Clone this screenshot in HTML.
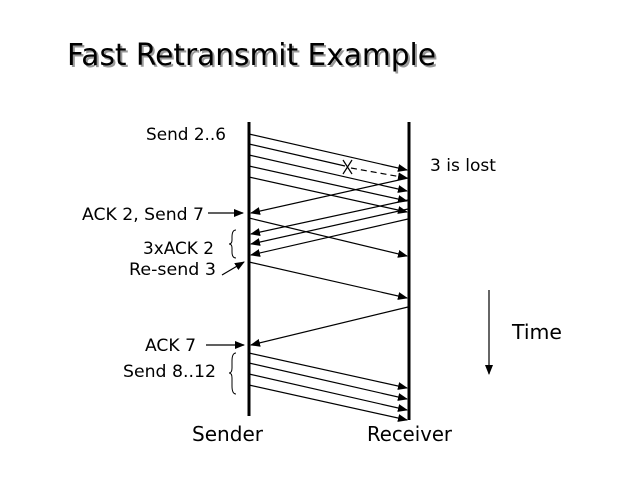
<!DOCTYPE html>
<html><head><style>body{margin:0;background:#fff}svg{display:block}</style></head>
<body>
<svg width="640" height="480" xmlns="http://www.w3.org/2000/svg" font-family="'DejaVu Sans','Liberation Sans',sans-serif">
<defs>
<marker id="a" markerWidth="10" markerHeight="8" refX="9" refY="4" orient="auto" markerUnits="userSpaceOnUse">
<path d="M0,0 L10,4 L0,8 z" fill="#000"/></marker>
</defs>
<text x="69" y="67" font-size="30" fill="#999" textLength="369" lengthAdjust="spacingAndGlyphs">Fast Retransmit Example</text>
<text x="67" y="65" font-size="30" fill="#000" textLength="369" lengthAdjust="spacingAndGlyphs">Fast Retransmit Example</text>
<g stroke="#000" fill="none">
<line x1="249" y1="122" x2="249" y2="416" stroke-width="3"/>
<line x1="409" y1="122" x2="409" y2="420" stroke-width="3"/>
<g stroke-width="1.2" marker-end="url(#a)">
<line x1="249" y1="134" x2="407" y2="170"/>
<line x1="249" y1="155" x2="407" y2="191"/>
<line x1="249" y1="166" x2="407" y2="201"/>
<line x1="249" y1="177" x2="407" y2="212"/>
<line x1="408" y1="178" x2="251" y2="213"/>
<line x1="408" y1="200" x2="251" y2="234"/>
<line x1="408" y1="209" x2="251" y2="244"/>
<line x1="408" y1="219" x2="251" y2="255"/>
<line x1="249" y1="218" x2="407" y2="256"/>
<line x1="249" y1="262" x2="407" y2="298"/>
<line x1="408" y1="307" x2="251" y2="345"/>
<line x1="249" y1="353" x2="407" y2="388"/>
<line x1="249" y1="363" x2="407" y2="399"/>
<line x1="249" y1="374" x2="407" y2="410"/>
<line x1="249" y1="385" x2="407" y2="420"/>
<line x1="208" y1="213" x2="243" y2="213"/>
<line x1="222" y1="275" x2="244" y2="262"/>
<line x1="206" y1="345" x2="244" y2="345"/>
<line x1="489" y1="290" x2="489" y2="374"/>
</g>
<polyline points="249,144 345,166" stroke-width="1.2"/>
<line x1="351" y1="168" x2="407" y2="178" stroke-width="1.2" stroke-dasharray="6,4" marker-end="url(#a)"/>
<path d="M343,160 L352,174 M352,160 L343,174" stroke-width="1.2"/>
<path d="M236,230 Q232,230 232,237 L232,240 Q232,244 229,244 Q232,244 232,248 L232,252 Q232,258 236,258" stroke-width="1"/>
<path d="M236,353 Q232,353 232,361 L232,368 Q232,373 229,373 Q232,373 232,378 L232,386 Q232,394 236,394" stroke-width="1"/>
</g>
<g font-size="17" fill="#000">
<text x="146" y="140" textLength="80" lengthAdjust="spacingAndGlyphs">Send 2..6</text>
<text x="82" y="220" textLength="122" lengthAdjust="spacingAndGlyphs">ACK 2, Send 7</text>
<text x="143" y="254" textLength="71" lengthAdjust="spacingAndGlyphs">3xACK 2</text>
<text x="129" y="275" textLength="87" lengthAdjust="spacingAndGlyphs">Re-send 3</text>
<text x="430" y="171" textLength="66" lengthAdjust="spacingAndGlyphs">3 is lost</text>
<text x="145" y="351" textLength="51" lengthAdjust="spacingAndGlyphs">ACK 7</text>
<text x="123" y="377" textLength="93" lengthAdjust="spacingAndGlyphs">Send 8..12</text>
</g>
<g font-size="20" fill="#000">
<text x="512" y="339" textLength="50" lengthAdjust="spacingAndGlyphs">Time</text>
<text x="192" y="441" textLength="71" lengthAdjust="spacingAndGlyphs">Sender</text>
<text x="367" y="441" textLength="85" lengthAdjust="spacingAndGlyphs">Receiver</text>
</g>
</svg>
</body></html>
